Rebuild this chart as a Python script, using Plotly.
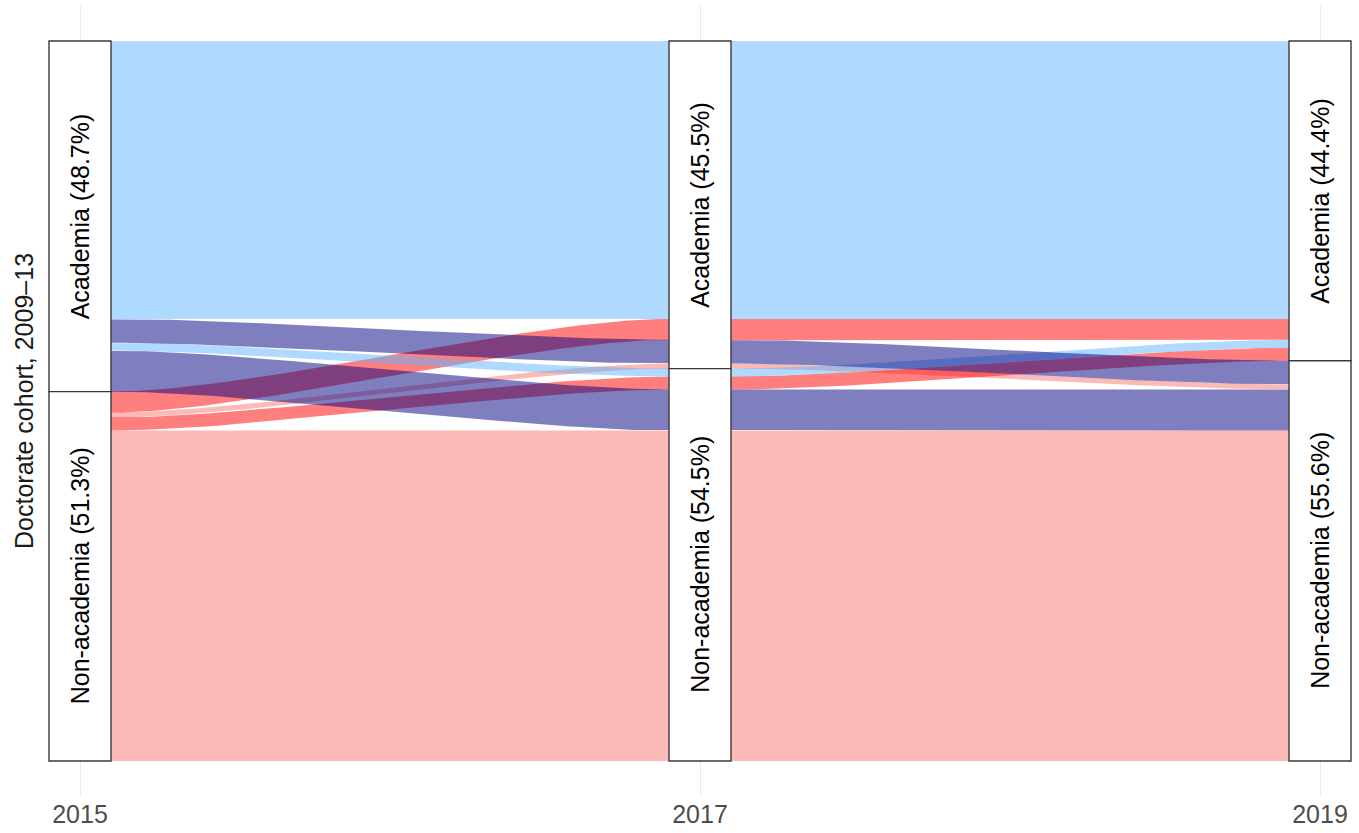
import numpy as np
import plotly.graph_objects as go

# ---------------- data ----------------
years = [2015, 2017, 2019]
year_labels = ["2015", "2017", "2019"]
strata = ["Academia", "Non-academia"]

# one alluvium per career path (state in 2015, 2017, 2019)
state_2015 = ["Academia", "Academia", "Academia", "Academia",
              "Non-academia", "Non-academia", "Non-academia", "Non-academia"]
state_2017 = ["Academia", "Academia", "Non-academia", "Non-academia",
              "Academia", "Academia", "Non-academia", "Non-academia"]
state_2019 = ["Academia", "Non-academia", "Academia", "Non-academia",
              "Academia", "Non-academia", "Academia", "Non-academia"]
share_pct = [38.6, 3.3, 1.1, 5.7, 2.9, 0.7, 1.8, 45.9]

# fill group = (2015 state, 2019 state)
fill_colors = {
    ("Academia", "Academia"): "rgba(98,180,255,0.5)",
    ("Academia", "Non-academia"): "rgba(0,0,128,0.5)",
    ("Non-academia", "Academia"): "rgba(255,0,0,0.5)",
    ("Non-academia", "Non-academia"): "rgba(248,118,109,0.5)",
}
draw_order = [("Non-academia", "Non-academia"), ("Non-academia", "Academia"),
              ("Academia", "Academia"), ("Academia", "Non-academia")]

y_title = "Doctorate cohort, 2009\u201313"

# ---------------- layout helpers ----------------
W = 0.2           # stratum width (years)
K = 0.25          # curve control-point position
states = [state_2015, state_2017, state_2019]
n = len(share_pct)
total = float(sum(share_pct))
rank = {s: i for i, s in enumerate(strata)}


def order_key(i, a):
    # zigzag lode guidance: later axes first, then earlier ones
    seq = [a] + [j for j in range(a + 1, len(years))] + [j for j in range(a - 1, -1, -1)]
    return tuple(rank[states[j][i]] for j in seq)


# vertical positions of each lode (top, bottom), stacked from top
tops = np.zeros((n, len(years)))
bots = np.zeros((n, len(years)))
stratum_bounds = []
for a in range(len(years)):
    idx = sorted(range(n), key=lambda i: order_key(i, a))
    y = 1.0
    for i in idx:
        h = share_pct[i] / total
        tops[i, a] = y
        bots[i, a] = y - h
        y -= h
    b = []
    y = 1.0
    for s in strata:
        v = sum(share_pct[i] for i in range(n) if states[a][i] == s)
        b.append((s, y, y - v / total, v))
        y -= v / total
    stratum_bounds.append(b)


def edge(vals):
    xs, ys = [], []
    u = np.linspace(0, 1, 80)
    for a in range(len(years)):
        xs += [years[a] - W / 2, years[a] + W / 2]
        ys += [vals[a], vals[a]]
        if a < len(years) - 1:
            x0, x1 = years[a] + W / 2, years[a + 1] - W / 2
            y0, y1 = vals[a], vals[a + 1]
            dx = x1 - x0
            px = [x0, x0 + K * dx, x1 - K * dx, x1]
            py = [y0, y0, y1, y1]
            bx = ((1 - u) ** 3) * px[0] + 3 * ((1 - u) ** 2) * u * px[1] + 3 * (1 - u) * u ** 2 * px[2] + u ** 3 * px[3]
            by = ((1 - u) ** 3) * py[0] + 3 * ((1 - u) ** 2) * u * py[1] + 3 * (1 - u) * u ** 2 * py[2] + u ** 3 * py[3]
            xs += list(bx[1:-1])
            ys += list(by[1:-1])
    return xs, ys


fig = go.Figure()
for grp in draw_order:
    for i in range(n):
        if (state_2015[i], state_2019[i]) != grp:
            continue
        tx, ty = edge(tops[i])
        bx, by = edge(bots[i])
        fig.add_trace(go.Scatter(
            x=tx + bx[::-1], y=ty + by[::-1], mode="lines", fill="toself",
            fillcolor=fill_colors[grp], line=dict(width=0), hoverinfo="skip",
            showlegend=False))

FONT = "Liberation Sans, Arial, Helvetica, sans-serif"
for a, yr in enumerate(years):
    for s, y0, y1, v in stratum_bounds[a]:
        fig.add_shape(type="rect", xref="x", yref="y", x0=yr - W / 2, x1=yr + W / 2,
                      y0=y1, y1=y0, fillcolor="white",
                      line=dict(color="#3a3a3a", width=1.4), layer="above")
        fig.add_annotation(x=yr, y=(y0 + y1) / 2, xref="x", yref="y",
                           text=f"{s} ({v / total * 100:.1f}%)", textangle=-90,
                           showarrow=False, font=dict(family=FONT, size=25, color="black"))

L, R, T, B = 38, 5, 5, 29
WIDTH, HEIGHT = 1359, 833
pxw = WIDTH - L - R
scale = 310.0  # px per year
x0 = 2015 - (80 - L) / scale
x1 = x0 + pxw / scale

fig.add_annotation(xref="paper", yref="paper", x=-(L - 24) / pxw, y=0.5,
                   xanchor="center", yanchor="middle", text=y_title, textangle=-90,
                   showarrow=False, font=dict(family=FONT, size=25, color="#1a1a1a"))

fig.update_layout(
    width=WIDTH, height=HEIGHT,
    margin=dict(l=L, r=R, t=T, b=B),
    paper_bgcolor="white", plot_bgcolor="white",
    xaxis=dict(range=[x0, x1], tickvals=years, ticktext=year_labels,
               showgrid=True, gridcolor="#ebebeb", gridwidth=1.2, zeroline=False,
               showline=False, ticks="", tickfont=dict(family=FONT, size=25, color="#4d4d4d")),
    yaxis=dict(range=[-0.05, 1.05], showticklabels=False, showgrid=False,
               zeroline=False, showline=False, ticks=""),
)

fig.write_html("out.html", config={"displayModeBar": False},
               post_script="document.body.style.margin='0';")
